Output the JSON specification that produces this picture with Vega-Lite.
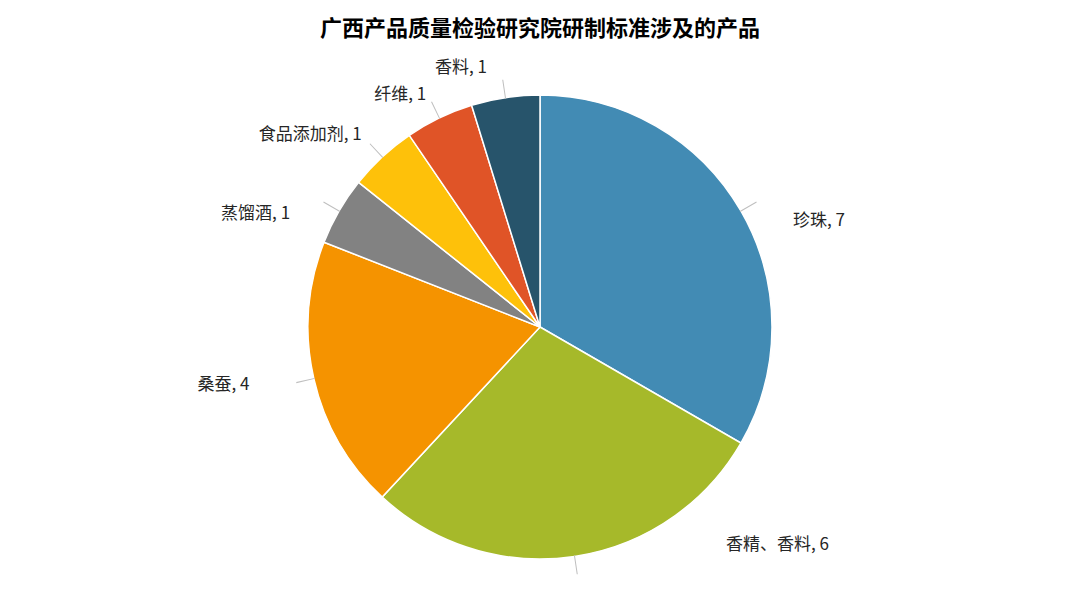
{
  "$schema": "https://vega.github.io/schema/vega-lite/v6.json",
  "width": 1080,
  "height": 607,
  "autosize": {"type": "fit", "contains": "padding"},
  "padding": {"top": 18, "left": 0, "right": 0, "bottom": 0},
  "background": "white",
  "title": {
    "text": "广西产品质量检验研究院研制标准涉及的产品",
    "font": "Noto Sans CJK SC",
    "fontSize": 22,
    "fontWeight": "bold",
    "color": "#000000",
    "anchor": "middle",
    "offset": 6
  },
  "data": {
    "values": [
      {"category": "珍珠", "value": 7, "order": 1},
      {"category": "香精、香料", "value": 6, "order": 2},
      {"category": "桑蚕", "value": 4, "order": 3},
      {"category": "蒸馏酒", "value": 1, "order": 4},
      {"category": "食品添加剂", "value": 1, "order": 5},
      {"category": "纤维", "value": 1, "order": 6},
      {"category": "香料", "value": 1, "order": 7}
    ]
  },
  "transform": [
    {"calculate": "datum.category + ', ' + datum.value", "as": "label"},
    {"window": [{"op": "sum", "field": "value", "as": "cum"}], "sort": [{"field": "order"}]},
    {"calculate": "datum.cum - datum.value / 2 - 0.007", "as": "mid0"},
    {"calculate": "datum.cum - datum.value / 2 + 0.007", "as": "mid1"}
  ],
  "layer": [
    {
      "mark": {"type": "arc", "radius": 232, "stroke": "white", "strokeWidth": 1.5},
      "encoding": {
        "theta": {"field": "value", "type": "quantitative", "stack": true},
        "order": {"field": "order", "type": "quantitative"},
        "color": {
          "field": "category",
          "type": "nominal",
          "legend": null,
          "scale": {
            "domain": ["珍珠", "香精、香料", "桑蚕", "蒸馏酒", "食品添加剂", "纤维", "香料"],
            "range": ["#428BB4", "#A6B92A", "#F59300", "#828282", "#FEC10A", "#E05427", "#27546B"]
          }
        }
      }
    },
    {
      "mark": {"type": "arc", "radius": 250, "radius2": 231, "color": "#BFBFBF"},
      "encoding": {
        "theta": {"field": "mid0", "type": "quantitative", "stack": null},
        "theta2": {"field": "mid1"}
      }
    },
    {
      "mark": {
        "type": "text",
        "radius": 262,
        "font": "Noto Sans CJK SC",
        "fontSize": 17,
        "color": "#262626",
        "baseline": "middle",
        "align": {"expr": "indexof(['珍珠', '香精、香料'], datum.category) >= 0 ? 'left' : 'right'"},
        "dx": {"expr": "datum.category == '香精、香料' ? 147 : datum.category == '珍珠' ? 26 : datum.category == '桑蚕' ? -35 : datum.category == '蒸馏酒' ? -23 : datum.category == '香料' ? -14 : 0"},
        "dy": {"expr": "datum.category == '香精、香料' ? -41 : datum.category == '珍珠' ? 25 : datum.category == '蒸馏酒' ? 18 : datum.category == '纤维' ? 4 : 0"}
      },
      "encoding": {
        "theta": {"field": "value", "type": "quantitative", "stack": true},
        "order": {"field": "order", "type": "quantitative"},
        "text": {"field": "label", "type": "nominal"}
      }
    }
  ],
  "config": {"view": {"stroke": null}}
}
